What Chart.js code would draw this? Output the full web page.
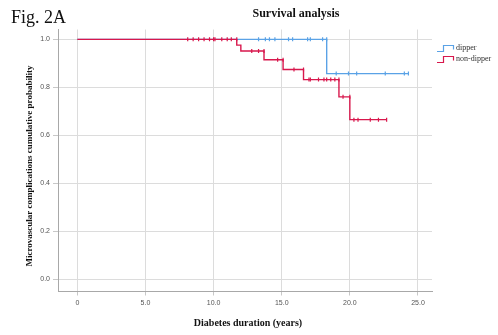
<!DOCTYPE html>
<html>
<head>
<meta charset="utf-8">
<script src="https://cdn.jsdelivr.net/npm/chart.js@4.4.1/dist/chart.umd.min.js"></script>
<style>
  body { margin: 0; background: #fff; }
  #wrap { position: relative; width: 498px; height: 335px; }
  #fig { position: absolute; left: 11px; top: 7px; font: 18px "Liberation Serif", serif; color: #111; }
</style>
</head>
<body>
<div id="wrap">
  <canvas id="km" width="498" height="335"></canvas>
  <div id="fig">Fig. 2A</div>
</div>
<script>
// Kaplan-Meier data
var xTicks = [0, 5, 10, 15, 20, 25];
var xTickLabels = ['0', '5.0', '10.0', '15.0', '20.0', '25.0'];
var yTicks = [0, 0.2, 0.4, 0.6, 0.8, 1.0];
var yTickLabels = ['0.0', '0.2', '0.4', '0.6', '0.8', '1.0'];

var dipperEventTimes = [0, 18.75];
var dipperSurvival = [1.0, 0.857];
var dipperCensored = [13.3, 13.8, 14.1, 14.5, 15.5, 15.8, 16.9, 17.1, 18.0, 18.3,
                      19.0, 19.9, 20.5, 22.6, 24.0, 24.3];

var nonDipperEventTimes = [0, 12.0, 12.4, 14.4, 15.4, 16.8, 19.4, 20.1];
var nonDipperSurvival = [1.0, 0.976, 0.951, 0.915, 0.874, 0.832, 0.760, 0.665];
var nonDipperCensored = [8.1, 8.5, 8.9, 9.3, 9.7, 10.0, 10.1, 10.6, 11.0, 11.3, 11.7,
                         12.8, 13.3, 13.7, 14.7, 15.1, 15.9, 16.6,
                         17.0, 17.1, 17.7, 18.1, 18.3, 18.6, 18.9, 19.2,
                         19.5, 20.0, 20.3, 20.6, 21.5, 22.1, 22.7];

var blue = '#5aa2e6';
var red = '#d8174c';

// survival value in effect at time t
function survAt(times, surv, t) {
    var s = surv[0];
    for (var i = 0; i < times.length; i++) {
        if (times[i] <= t) s = surv[i];
    }
    return s;
}

function buildPoints(times, surv, cens) {
    var pts = [];
    for (var i = 0; i < times.length; i++) pts.push({x: times[i], y: surv[i], c: false});
    for (var j = 0; j < cens.length; j++) pts.push({x: cens[j], y: survAt(times, surv, cens[j]), c: true});
    pts.sort(function(a, b) { return a.x - b.x; });
    return pts;
}

var dipperPts = buildPoints(dipperEventTimes, dipperSurvival, dipperCensored);
var nonDipperPts = buildPoints(nonDipperEventTimes, nonDipperSurvival, nonDipperCensored);

function ds(label, pts, color, order) {
    return {
        label: label,
        data: pts,
        borderColor: color,
        backgroundColor: color,
        borderWidth: 1.4,
        stepped: 'after',
        fill: false,
        order: order,
        pointStyle: 'line',
        pointRotation: 90,
        pointBorderWidth: 1.2,
        pointBorderColor: color,
        pointRadius: pts.map(function(p) { return p.c ? 2 : 0; }),
        pointHoverRadius: 0
    };
}

// titles and legend drawn as canvas text
var textPlugin = {
    id: 'texts',
    afterDraw: function(chart) {
        var ctx = chart.ctx;
        ctx.save();
        ctx.fillStyle = '#111';
        ctx.textAlign = 'center';
        ctx.textBaseline = 'middle';
        ctx.font = 'bold 12px "Liberation Serif"';
        ctx.fillText('Survival analysis', 296, 14);

        ctx.font = 'bold 10px "Liberation Serif"';
        ctx.fillText('Diabetes duration (years)', 248, 323);

        ctx.save();
        ctx.translate(30, 166);
        ctx.rotate(-Math.PI / 2);
        ctx.font = 'bold 9px "Liberation Serif"';
        ctx.fillText('Microvascular complications cumulative probability', 0, 0);
        ctx.restore();

        // legend
        var items = [['dipper', blue, 48], ['non-dipper', red, 59]];
        ctx.textAlign = 'left';
        ctx.font = '8px "Liberation Serif"';
        items.forEach(function(it) {
            var y = it[2];
            ctx.strokeStyle = it[1];
            ctx.lineWidth = 1.2;
            ctx.beginPath();
            ctx.moveTo(437, y + 3.5);
            ctx.lineTo(443.5, y + 3.5);
            ctx.lineTo(443.5, y - 2.5);
            ctx.lineTo(453.5, y - 2.5);
            ctx.lineTo(453.5, y + 1.5);
            ctx.stroke();
            ctx.fillStyle = '#333';
            ctx.fillText(it[0], 456, y);
        });
        ctx.restore();
    }
};

var ctx = document.getElementById('km').getContext('2d');
new Chart(ctx, {
    type: 'line',
    data: {
        datasets: [
            ds('dipper', dipperPts, blue, 2),
            ds('non-dipper', nonDipperPts, red, 1)
        ]
    },
    options: {
        responsive: false,
        animation: false,
        events: [],
        layout: { padding: { top: 29.5, right: 66, left: 0, bottom: 0 } },
        plugins: {
            legend: { display: false },
            title: { display: false },
            tooltip: { enabled: false }
        },
        scales: {
            x: {
                type: 'linear',
                min: -1.42,
                max: 26.03,
                afterBuildTicks: function(scale) {
                    scale.ticks = xTicks.map(function(v) { return {value: v}; });
                },
                afterFit: function(scale) { scale.height = 43.5; },
                grid: { color: '#dcdcdc', tickColor: '#c8c8c8', tickLength: 4, lineWidth: 1 },
                border: { color: '#a8a8a8', width: 1 },
                ticks: {
                    autoSkip: false,
                    maxRotation: 0,
                    padding: 3,
                    color: '#555',
                    font: { family: 'Liberation Sans', size: 7 },
                    callback: function(v, i) { return xTickLabels[i]; }
                }
            },
            y: {
                min: -0.052,
                max: 1.041,
                afterBuildTicks: function(scale) {
                    scale.ticks = yTicks.map(function(v) { return {value: v}; });
                },
                afterFit: function(scale) { scale.width = 58; },
                grid: { color: '#dcdcdc', tickColor: '#c8c8c8', tickLength: 5, lineWidth: 1 },
                border: { color: '#a8a8a8', width: 1 },
                ticks: {
                    autoSkip: false,
                    padding: 3,
                    color: '#555',
                    font: { family: 'Liberation Sans', size: 7 },
                    callback: function(v, i) { return yTickLabels[i]; }
                }
            }
        }
    },
    plugins: [textPlugin]
});
</script>
</body>
</html>
